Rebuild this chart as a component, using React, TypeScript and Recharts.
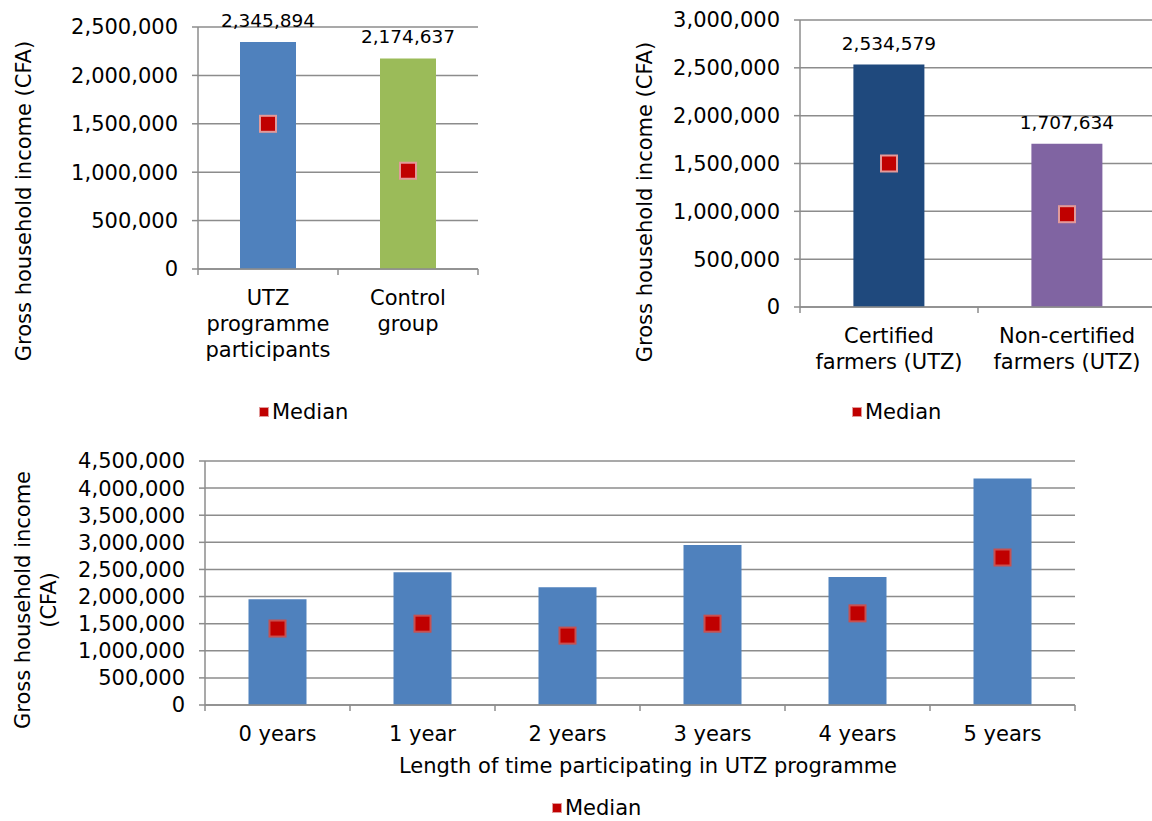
import React from 'react';
import { ComposedChart, Bar, Scatter, Cell, XAxis, YAxis, CartesianGrid, LabelList, Legend } from 'recharts';

const FONT = '"DejaVu Sans", Verdana, sans-serif';
const GRID = '#8C8C8C';

// top-left: programme participants vs control
const groupCats = ['UTZ\nprogramme\nparticipants', 'Control\ngroup'];
const groupMeans = [2345894, 2174637];
const groupMedians = [1500000, 1015000];
const groupColors = ['#4F81BD', '#9BBB59'];
const groupTicks = [0, 500000, 1000000, 1500000, 2000000, 2500000];

// top-right: certified vs non-certified
const certCats = ['Certified\nfarmers (UTZ)', 'Non-certified\nfarmers (UTZ)'];
const certMeans = [2534579, 1707634];
const certMedians = [1500000, 970000];
const certColors = ['#1F497D', '#8064A2'];
const certTicks = [0, 500000, 1000000, 1500000, 2000000, 2500000, 3000000];

// bottom: years in programme
const yearCats = ['0 years', '1 year', '2 years', '3 years', '4 years', '5 years'];
const yearMeans = [1950000, 2450000, 2170000, 2950000, 2360000, 4175000];
const yearMedians = [1410000, 1500000, 1280000, 1500000, 1690000, 2720000];
const yearColors = ['#4F81BD', '#4F81BD', '#4F81BD', '#4F81BD', '#4F81BD', '#4F81BD'];
const yearTicks = [0, 500000, 1000000, 1500000, 2000000, 2500000, 3000000, 3500000, 4000000, 4500000];

const fmt = (v: any) => Number(v).toLocaleString('en-US');

function CatTick(props: any) {
  const { x, y, payload, index, band, count } = props;
  const lines = String(payload.value).split('\n');
  return (
    <g>
      <line x1={x - band / 2} x2={x - band / 2} y1={y} y2={y + 6} stroke={GRID} strokeWidth={1.5} />
      {index === count - 1 && (
        <line x1={x + band / 2} x2={x + band / 2} y1={y} y2={y + 6} stroke={GRID} strokeWidth={1.5} />
      )}
      <text textAnchor="middle" fill="#000" fontSize={21} fontFamily={FONT}>
        {lines.map((l, i) => (
          <tspan key={i} x={x} y={y + 36 + i * 26}>
            {l}
          </tspan>
        ))}
      </text>
    </g>
  );
}

function MedianMark(props: any) {
  const { cx, cy, stroke } = props;
  if (cx == null || cy == null) return null;
  return <rect x={cx - 8} y={cy - 8} width={16} height={16} fill="#C00000" stroke={stroke} strokeWidth={2} />;
}

function MedianKey() {
  return (
    <div style={{ display: 'flex', alignItems: 'center', fontFamily: FONT, fontSize: 21, lineHeight: '24px', color: '#000' }}>
      <span style={{ width: 8, height: 8, background: '#C00000', border: '1.5px solid #E29A9A', marginRight: 3 }} />
      Median
    </div>
  );
}

type PanelProps = {
  cats: string[];
  means: number[];
  medians: number[];
  colors: string[];
  ticks: number[];
  width: number;
  height: number;
  top: number;
  left: number;
  margin: { top: number; right: number; bottom: number; left: number };
  yWidth: number;
  xHeight: number;
  band: number;
  yTitle: string[];
  yTitleX: number[];
  yTitleY: number;
  legendLeft: number;
  legendTop: number;
  markerStroke: string;
  showValues?: boolean;
  xTitle?: string;
  xTitlePos?: [number, number];
};

function Panel(p: PanelProps) {
  const data = p.cats.map((c, i) => ({ name: c, mean: p.means[i], median: p.medians[i] }));
  return (
    <div style={{ position: 'absolute', top: p.top, left: p.left }}>
      <ComposedChart width={p.width} height={p.height} data={data} margin={p.margin} barCategoryGap="30%">
        <CartesianGrid vertical={false} stroke={GRID} strokeWidth={1.5} />
        <XAxis
          dataKey="name"
          height={p.xHeight}
          axisLine={{ stroke: GRID, strokeWidth: 1.5 }}
          tickLine={false}
          tickSize={0}
          tickMargin={0}
          interval={0}
          tick={<CatTick band={p.band} count={p.cats.length} />}
          label={
            p.xTitle
              ? {
                  content: () => (
                    <text x={p.xTitlePos![0]} y={p.xTitlePos![1]} textAnchor="middle" fontSize={21} fontFamily={FONT} fill="#000">
                      {p.xTitle}
                    </text>
                  ),
                }
              : undefined
          }
        />
        <YAxis
          width={p.yWidth}
          domain={[p.ticks[0], p.ticks[p.ticks.length - 1]]}
          ticks={p.ticks}
          interval={0}
          tickFormatter={fmt}
          axisLine={{ stroke: GRID, strokeWidth: 1.5 }}
          tickLine={{ stroke: GRID, strokeWidth: 1.5 }}
          tickSize={6}
          tickMargin={14}
          tick={{ fontSize: 21, fontFamily: FONT, fill: '#000' }}
          label={{
            content: () => (
              <g>
                {p.yTitle.map((line, i) => (
                  <text
                    key={i}
                    x={0}
                    y={0}
                    textAnchor="middle"
                    fontSize={21}
                    fontFamily={FONT}
                    fill="#000"
                    transform={`translate(${p.yTitleX[i]}, ${p.yTitleY}) rotate(-90)`}
                  >
                    {line}
                  </text>
                ))}
              </g>
            ),
          }}
        />
        <Bar dataKey="mean" isAnimationActive={false} legendType="none">
          {data.map((_, i) => (
            <Cell key={i} fill={p.colors[i]} />
          ))}
          {p.showValues && (
            <LabelList dataKey="mean" position="top" offset={15} formatter={fmt} fill="#000" fontSize={18.5} fontFamily={FONT} />
          )}
        </Bar>
        <Scatter dataKey="median" isAnimationActive={false} shape={<MedianMark stroke={p.markerStroke} />} />
        <Legend
          layout="horizontal"
          verticalAlign="middle"
          align="center"
          wrapperStyle={{ top: p.legendTop, left: p.legendLeft, width: 120, height: 24 }}
          content={() => <MedianKey />}
        />
      </ComposedChart>
    </div>
  );
}

export default function App() {
  return (
    <div style={{ position: 'absolute', top: 0, left: 0, width: 1152, height: 821, background: '#fff', overflow: 'hidden' }}>
      <Panel
        cats={groupCats}
        means={groupMeans}
        medians={groupMedians}
        colors={groupColors}
        ticks={groupTicks}
        width={500}
        height={430}
        top={0}
        left={0}
        margin={{ top: 27, right: 22, bottom: 0, left: 0 }}
        yWidth={198}
        xHeight={161}
        band={140}
        yTitle={['Gross household income (CFA)']}
        yTitleX={[31]}
        yTitleY={201}
        legendLeft={259}
        legendTop={400}
        markerStroke="#E29A9A"
        showValues
      />
      <Panel
        cats={certCats}
        means={certMeans}
        medians={certMedians}
        colors={certColors}
        ticks={certTicks}
        width={560}
        height={430}
        top={0}
        left={600}
        margin={{ top: 20, right: 4, bottom: 0, left: 0 }}
        yWidth={200}
        xHeight={123}
        band={178}
        yTitle={['Gross household income (CFA)']}
        yTitleX={[52]}
        yTitleY={202}
        legendLeft={252}
        legendTop={400}
        markerStroke="#E29A9A"
        showValues
      />
      <Panel
        cats={yearCats}
        means={yearMeans}
        medians={yearMedians}
        colors={yearColors}
        ticks={yearTicks}
        width={1152}
        height={381}
        top={440}
        left={0}
        margin={{ top: 21, right: 77, bottom: 0, left: 0 }}
        yWidth={205}
        xHeight={116}
        band={145}
        yTitle={['Gross household income', '(CFA)']}
        yTitleX={[30, 56]}
        yTitleY={160}
        legendLeft={552}
        legendTop={356}
        markerStroke="#C85050"
        xTitle="Length of time participating in UTZ programme"
        xTitlePos={[648, 333]}
      />
    </div>
  );
}
